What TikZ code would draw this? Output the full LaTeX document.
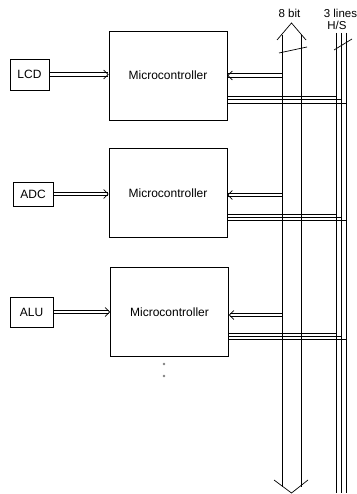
\documentclass[tikz,border=0pt]{standalone}
\usepackage{fontspec}
\setmainfont{Liberation Sans}
\usetikzlibrary{arrows.meta,calc}

\begin{document}
\begin{tikzpicture}[x=1pt,y=-1pt,line width=0.7pt,
  mcu/.style={draw,minimum width=118pt,minimum height=89pt,inner sep=0pt,
    font=\fontsize{12}{14}\selectfont},
  dev/.style={draw,inner sep=0pt,font=\fontsize{12}{14}\selectfont},
  dbl/.style={dash pattern=on 0pt off 1000pt,
    -{Straight Barb[length=4.5pt,width=9pt]},
    postaction={draw,solid,-,shorten >=0.8pt,transform canvas={yshift=1.8pt}},
    postaction={draw,solid,-,shorten >=0.8pt,transform canvas={yshift=-1.8pt}}},
  lbl/.style={inner sep=0pt,font=\fontsize{11.5}{13}\selectfont}]
\useasboundingbox (0,0) rectangle (356,494);
% controllers
\node[mcu] (mcu1) at (168,75.5) {Microcontroller};
\node[mcu] (mcu2) at (168,193) {Microcontroller};
\node[mcu] (mcu3) at (169.5,312) {Microcontroller};
% devices
\node[dev,minimum width=39pt,minimum height=31pt] (lcd) at (29.5,74.5) {LCD};
\node[dev,minimum width=40pt,minimum height=24pt] (adc) at (33,194) {ADC};
\node[dev,minimum width=43pt,minimum height=30pt] (alu) at (31.5,312) {ALU};
\draw[dbl] (lcd) -- (lcd -| mcu1.west);
\draw[dbl] (adc) -- (adc -| mcu2.west);
\draw[dbl] (alu) -- (alu -| mcu3.west);
% data bus
\coordinate (busL) at (282,35);
\coordinate (busR) at (301,35);
\coordinate (bustip) at (291.5,23);
\coordinate (busend) at (291.5,493);
\draw (busL) -- ++(0,452);
\draw (busR) -- ++(0,452);
\draw (277,40) -- (bustip) -- (306,40);
\draw (274,480) -- (busend) -- (308,480);
\draw (279,53) -- (307,47);
\node[lbl] (bit) at (289.5,13) {8 bit};
% handshake lines
\coordinate (hs1) at (336,33);
\coordinate (hs2) at (341,33);
\coordinate (hs3) at (346,33);
\foreach \l in {hs1,hs2,hs3}
  \draw (\l) -- ++(0,460);
\draw (334,50) -- (352,39);
\node[lbl,anchor=west] (lines) at (323.5,13) {3 lines};
\node[lbl] (hs) at (337,25) {H/S};
% links to bus
\foreach \m/\dy in {mcu1/0,mcu2/-2,mcu3/-3} {
  \draw[dbl] ([yshift=\dy pt]\m.east -| busL) -- ([yshift=\dy pt]\m.east);
  \draw ([yshift=-21pt]\m.east) -- ([yshift=-21pt]\m.east -| hs1);
  \draw ([yshift=-24pt]\m.east) -- ([yshift=-24pt]\m.east -| hs2);
  \draw ([yshift=-27.5pt]\m.east) -- ([yshift=-27.5pt]\m.east -| hs3);
}
% more controllers
\fill[gray] (164,364) circle (1.3pt) (164,376) circle (1.3pt);
\end{tikzpicture}
\end{document}
